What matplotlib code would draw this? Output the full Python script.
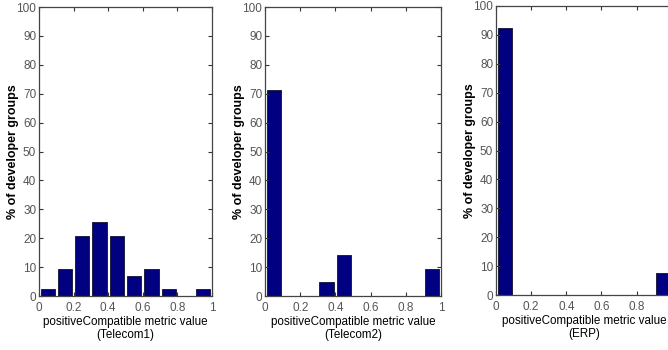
import numpy as np
from matplotlib import pyplot as plt

plt.rcParams['font.family'] = ['Liberation Sans', 'DejaVu Sans']

# bin centres of the histogram
bin_centres = [0.05, 0.15, 0.25, 0.35, 0.45, 0.55, 0.65, 0.75, 0.85, 0.95]

# % of developer groups per bin
telecom1 = [2.3, 9.3, 20.9, 25.6, 20.9, 7.0, 9.3, 2.3, 0.0, 2.3]
telecom2 = [71.4, 0.0, 0.0, 4.8, 14.3, 0.0, 0.0, 0.0, 0.0, 9.5]
erp = [92.3, 0.0, 0.0, 0.0, 0.0, 0.0, 0.0, 0.0, 0.0, 7.7]

panels = [('(Telecom1)', telecom1), ('(Telecom2)', telecom2), ('(ERP)', erp)]
xticks = [0, 0.2, 0.4, 0.6, 0.8, 1]
xticklabels = ['0', '0.2', '0.4', '0.6', '0.8', '1']
yticks = list(range(0, 101, 10))

# axes positions in figure fractions (third panel runs off the right edge, as in the original)
positions = [[0.0584, 0.154, 0.259, 0.826],
             [0.397, 0.154, 0.263, 0.826],
             [0.7425, 0.157, 0.263, 0.826]]

fig = plt.figure(figsize=(6.68, 3.5), dpi=100)

for i, ((name, vals), pos) in enumerate(zip(panels, positions)):
    ax = fig.add_axes(pos)
    ax.bar(bin_centres, vals, width=0.082, color='#000080', edgecolor='#101030', linewidth=0.6)
    ax.set_xlim(0, 1)
    ax.set_ylim(0, 100)
    ax.set_xticks(xticks)
    labels = list(xticklabels)
    if i == 2:
        labels[-1] = ''  # falls outside the cropped picture
    ax.set_xticklabels(labels)
    ax.set_yticks(yticks)
    ax.tick_params(axis='both', direction='in', length=3, width=0.8, labelsize=8.5,
                   labelcolor='#555555', color='#333333', top=True, right=True)
    ax.tick_params(axis='x', pad=4)
    ax.tick_params(axis='y', pad=2)
    for s in ax.spines.values():
        s.set_color('#444444')
        s.set_linewidth(0.9)
    ax.set_xlabel('positiveCompatible metric value\n' + name, fontsize=8.4, labelpad=2,
                  linespacing=1.05)
    ax.set_ylabel('% of developer groups', fontsize=9, fontweight='bold', labelpad=-2)

plt.savefig('out.png', dpi=100)
